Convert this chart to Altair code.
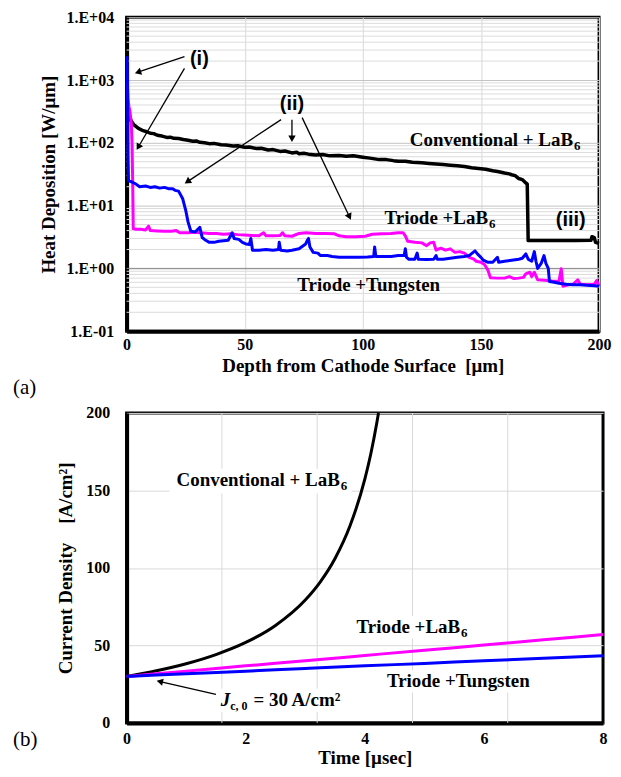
import math
import altair as alt
import pandas as pd

FONT = "'Liberation Serif', 'Times New Roman', Times, serif"
SANS = "'Liberation Sans', Arial, sans-serif"

W_A, H_A = 474, 315
W_B, H_B = 478, 311

# ---------------- Panel (a): heat deposition vs depth ----------------
conv_a = [(0.5, 340), (1, 280), (2, 220), (3, 195), (5, 170), (7, 156), (8.5, 150), (10, 142),
          (11.5, 140), (13, 132), (15, 128), (17, 122), (18.5, 123), (20, 118), (22, 117), (24, 113),
          (26, 110), (28, 106), (29.5, 107), (31, 102), (33, 100), (35, 97), (37, 98), (40, 93),
          (42, 92), (45, 89), (47, 90), (50, 85), (52, 86), (55, 81), (57, 82), (60, 77), (62, 78),
          (65, 73), (67, 74), (70, 69), (72, 71), (73, 67), (75, 68), (77, 66), (80, 64), (83, 65),
          (86, 62), (90, 63), (93, 61), (96, 62), (100, 59), (103, 57), (107, 54), (110, 54),
          (113, 52), (115, 51), (118, 51), (121, 49), (125, 48), (128, 47), (131, 46), (134, 45),
          (137, 44), (140, 43), (143, 42), (146, 40), (149, 39), (152, 38), (155, 36), (157, 35),
          (160, 33), (162, 32), (163, 31), (164.5, 30), (166, 27), (167.5, 26), (169, 23),
          (169.6, 22), (170, 2.77), (175, 2.77), (180, 2.77), (185, 2.77), (190, 2.77),
          (196.6, 2.8), (197, 3.2), (198, 3.1), (198.5, 2.6), (200, 2.5)]

tung_a = [(0.2, 2400), (0.4, 800), (0.6, 60), (0.8, 25), (2, 24), (4, 22), (5.5, 20), (8, 20.5),
          (10, 19.5), (12, 20), (14, 19), (16, 19.5), (18, 18.5), (19.5, 18.5), (20.5, 17.5),
          (22, 17), (23.7, 13), (25, 8.5), (26, 5.5), (27.2, 3.9), (29, 3.8), (31, 4.5), (32, 3.1),
          (33.5, 2.8), (35, 2.6), (37, 2.6), (39, 2.7), (41, 2.75), (43, 2.8), (44.7, 3.7),
          (45.5, 3.0), (47.5, 2.9), (49, 2.6), (50.5, 2.45), (52, 2.4), (52.6, 3.0), (53.3, 1.95),
          (56, 1.95), (59, 2.0), (62, 1.95), (64.3, 2.0), (64.6, 2.6), (65.2, 1.95), (68, 1.9),
          (70, 1.95), (73, 2.05), (75.8, 2.45), (76.5, 2.8), (77, 3.0), (77.6, 2.2), (79, 1.8),
          (81, 1.75), (82, 1.6), (85, 1.6), (87, 1.55), (90, 1.5), (94, 1.5), (98, 1.5),
          (102, 1.52), (104.6, 1.55), (105, 2.2), (105.5, 1.55), (109, 1.55), (112, 1.55),
          (115, 1.6), (117.5, 1.6), (118, 2.05), (118.5, 1.5), (119.5, 1.4), (122, 1.4),
          (123, 1.75), (123.5, 1.4), (127, 1.38), (130, 1.4), (131, 1.6), (131.5, 1.4), (134, 1.4),
          (137, 1.45), (140, 1.5), (143, 1.55), (145, 1.6), (147.5, 1.9), (148.5, 1.7), (150, 1.5),
          (151, 1.35), (153, 1.25), (155, 1.25), (157, 1.5), (157.5, 1.25), (160, 1.3), (163, 1.35),
          (166, 1.4), (167.5, 1.45), (169, 1.7), (170, 1.4), (171.5, 1.3), (172.6, 1.85),
          (173.3, 1.3), (174, 1.0), (175.5, 1.2), (176.7, 1.6), (177.5, 1.2), (178.5, 1.0),
          (179, 0.62), (181, 0.6), (183, 0.58), (186, 0.56), (189, 0.55), (192, 0.55), (195, 0.54),
          (198, 0.53), (200, 0.52)]

lab6_a = [(0.3, 900), (0.6, 500), (1.0, 380), (1.5, 300), (2.0, 200), (2.3, 100), (2.6, 20),
          (2.8, 4.3), (4, 4.2), (6, 4.2), (8, 4.1), (9.3, 4.7), (10, 4.0), (13, 3.95), (16, 3.9),
          (19, 3.9), (21, 4.0), (22.5, 3.7), (26, 3.7), (29, 3.75), (31, 3.7), (35, 3.6), (38, 3.6),
          (41, 3.5), (44, 3.55), (47, 3.45), (50, 3.4), (53, 3.35), (56, 3.3), (58, 3.7), (59, 3.3),
          (62, 3.3), (65, 3.35), (66, 3.7), (67, 3.3), (70, 3.25), (73, 3.6), (76, 3.7), (80, 3.6),
          (84, 3.6), (88, 3.55), (90, 3.3), (93, 3.2), (97, 3.2), (101, 3.25), (104, 3.5),
          (108, 3.55), (112, 3.6), (115, 3.7), (117, 3.7), (118, 3.3), (119, 2.7), (122, 2.6),
          (125, 2.55), (127, 2.3), (128.5, 2.55), (130, 2.6), (131, 1.95), (133, 2.1), (135, 1.95),
          (137, 2.05), (139, 1.8), (141, 1.85), (143, 1.75), (145, 1.5), (147, 1.4), (148, 1.3),
          (150, 1.25), (151.5, 1.15), (153, 0.93), (154, 0.71), (157, 0.7), (160, 0.7), (162, 0.74),
          (164, 0.69), (166, 0.7), (168, 0.72), (169, 0.82), (170.7, 0.87), (171.5, 0.74),
          (172.6, 0.87), (174, 0.66), (177, 0.65), (180, 0.63), (183, 0.62), (184, 0.99),
          (184.7, 0.52), (187, 0.55), (189, 0.56), (191, 0.66), (192, 0.56), (195, 0.55),
          (198, 0.56), (199, 0.64), (200, 0.52)]

x_ticks_a = [0, 50, 100, 150, 200]
y_ticks_a = [0.1, 1, 10, 100, 1000, 10000]
y_labels_a = ["1.E-01", "1.E+00", "1.E+01", "1.E+02", "1.E+03", "1.E+04"]
minor_grid_a = [m * 10 ** e for e in range(-1, 4) for m in range(2, 10)]

# annotation texts (x, y in data units)
roman_a = [("(i)", 30.8, 2200), ("(ii)", 70, 418), ("(iii)", 188, 5.9)]
center_a = [("Triode +Tungsten", 102.5, 0.55)]
right_a = [("Conventional + LaB", 189, 110), ("Triode +LaB", 153, 6.3)]
arrows_a = [(24.5, 2360, 3.4, 1280), (24.5, 1530, 4.2, 76.6), (65.4, 234, 24.5, 22.4),
            (70, 234, 70, 102), (74.3, 252, 95, 5.9)]

# ---------------- Panel (b): current density vs time ----------------
conv_b = [(0, 30), (0.5, 33.6), (1, 38.2), (1.5, 44.1), (2, 51.9), (2.5, 62.9), (3, 79.3),
          (3.25, 90.9), (3.5, 106.1), (3.75, 127), (4, 157.3), (4.1, 173.5), (4.2, 193.3), (4.23, 200)]
lab6_b = [(0, 30), (1, 33.4), (2, 36.8), (3, 40.1), (4, 43.5), (5, 46.9), (6, 50.2), (7, 53.6), (8, 57)]
tung_b = [(0, 30), (1, 31.7), (2, 33.4), (3, 35.1), (4, 36.8), (5, 38.4), (6, 40.1), (7, 41.7), (8, 43.3)]

x_ticks_b = [0, 2, 4, 6, 8]
x_grid_b = [1.6, 3.2, 4.8, 6.4]
y_ticks_b = [0, 50, 100, 150, 200]

center_b = [("Triode +Tungsten", 5.57, 27)]
right_b = [("Conventional + LaB", 3.58, 157), ("Triode +LaB", 5.6, 62)]
blank_b = [(0.72, 3.78, 164, 148), (3.82, 5.8, 69, 54.4), (4.2, 6.95, 34, 19.6), (1.53, 3.78, 22, 7)]
arrows_b = [(1.5, 18.4, 0.5, 27.2)]

BLACK, BLUE, MAGENTA = "#000000", "#0000ff", "#ff00ff"
TXT = 19


def frame(pairs):
    return pd.DataFrame(pairs, columns=["x", "y"])


def texts(rows):
    return pd.DataFrame(rows, columns=["label", "x", "y"])


def pa(d, v):
    return d / 200 * W_A, (4 - math.log10(v)) / 5 * H_A


def pa_inv(x, y):
    return x / W_A * 200, 10 ** (4 - y / H_A * 5)


def pb(t, j):
    return t / 8 * W_B, (200 - j) / 200 * H_B


def pb_inv(x, y):
    return x / W_B * 8, 200 - y / H_B * 200


def build_arrows(arrows, p, inv):
    shafts, heads = [], []
    for x0, y0, x1, y1 in arrows:
        X0, Y0 = p(x0, y0)
        X1, Y1 = p(x1, y1)
        dx, dy = X1 - X0, Y1 - Y0
        L = math.hypot(dx, dy)
        ux, uy = dx / L, dy / L
        ex, ey = inv(X1 - ux * 5, Y1 - uy * 5)
        hx, hy = inv(X1 - ux * 3.5, Y1 - uy * 3.5)
        shafts.append({"x": x0, "y": y0, "x2": ex, "y2": ey})
        heads.append({"x": hx, "y": hy, "ang": math.degrees(math.atan2(dx, -dy)) % 360})
    return pd.DataFrame(shafts), pd.DataFrame(heads)


def label_expr(values, labels):
    expr = "'" + labels[-1] + "'"
    for v, lab in reversed(list(zip(values[:-1], labels[:-1]))):
        expr = f"datum.value < {v * math.sqrt(10)} ? '{lab}' : " + expr
    return expr


# ---------------- Panel (a) chart ----------------
axis_xa = alt.Axis(values=x_ticks_a, title="Depth from Cathode Surface \u00a0[μm]", grid=True,
                   gridColor="#d9d9d9", labelPadding=5, titlePadding=4, format="d")
axis_ya = alt.Axis(values=y_ticks_a, labelExpr=label_expr(y_ticks_a, y_labels_a),
                   title="Heat Deposition [W/μm]", grid=True, gridColor="#c4c4c4",
                   labelPadding=13, titlePadding=8)
XA = alt.X("x:Q", scale=alt.Scale(domain=[0, 200], nice=False, zero=False), axis=axis_xa)
YA = alt.Y("y:Q", scale=alt.Scale(type="log", domain=[0.1, 10000], nice=False), axis=axis_ya)

minor_a = alt.Chart(pd.DataFrame({"y": minor_grid_a})).mark_rule(color="#dcdcdc", strokeWidth=1).encode(y=YA)
unity_a = alt.Chart(pd.DataFrame({"y": [1]})).mark_rule(color="#8c8c8c", strokeWidth=1).encode(y=YA)


def line_a(pairs, color, width=3):
    return alt.Chart(frame(pairs)).mark_line(color=color, strokeWidth=width, strokeJoin="round").encode(x=XA, y=YA)


shaft_a, head_a = build_arrows(arrows_a, pa, pa_inv)
shafts_a = alt.Chart(shaft_a).mark_rule(color="black", strokeWidth=1.3).encode(
    x=XA, y=YA, x2="x2:Q", y2="y2:Q")
heads_a = alt.Chart(head_a).mark_point(shape="triangle-up", filled=True, color="black", size=55,
                                       opacity=1, strokeWidth=0).encode(
    x=XA, y=YA, angle=alt.Angle("ang:Q", scale=None))

roman_t = alt.Chart(texts(roman_a)).mark_text(font=SANS, fontWeight="bold", fontSize=20,
                                              align="center", baseline="middle").encode(x=XA, y=YA, text="label:N")
center_t_a = alt.Chart(texts(center_a)).mark_text(font=FONT, fontWeight="bold", fontSize=TXT,
                                                  align="center", baseline="middle").encode(x=XA, y=YA, text="label:N")
right_t_a = alt.Chart(texts(right_a)).mark_text(font=FONT, fontWeight="bold", fontSize=TXT,
                                                align="right", baseline="middle").encode(x=XA, y=YA, text="label:N")
sub_t_a = alt.Chart(texts(right_a)).mark_text(font=FONT, fontWeight="bold", fontSize=13, align="left",
                                              baseline="middle", dx=1, dy=6, text="6").encode(x=XA, y=YA)
tag_a = alt.Chart(pd.DataFrame({"label": ["(a)"]})).mark_text(font=FONT, fontSize=21, align="left",
                                                              baseline="middle").encode(
    x=alt.value(-114), y=alt.value(H_A + 57), text="label:N")

chart_a = alt.layer(minor_a, unity_a, line_a(conv_a, BLACK, 3.5), line_a(lab6_a, MAGENTA), line_a(tung_a, BLUE),
                    shafts_a, heads_a, roman_t, center_t_a, right_t_a, sub_t_a, tag_a).properties(
    width=W_A, height=H_A)

# ---------------- Panel (b) chart ----------------
axis_xb = alt.Axis(values=x_ticks_b, title="Time [µsec]", grid=False, labelPadding=8, titlePadding=2)
axis_yb = alt.Axis(values=y_ticks_b, title="Current Density \u00a0\u00a0\u00a0[A/cm²]", grid=True,
                   gridColor="#d9d9d9", labelPadding=17, titlePadding=10)
XB = alt.X("x:Q", scale=alt.Scale(domain=[0, 8], nice=False, zero=False), axis=axis_xb)
YB = alt.Y("y:Q", scale=alt.Scale(domain=[0, 200], nice=False), axis=axis_yb)

vgrid_b = alt.Chart(pd.DataFrame({"x": x_grid_b})).mark_rule(color="#d9d9d9", strokeWidth=1).encode(x=XB)
blank_df = pd.DataFrame(blank_b, columns=["x", "x2", "y", "y2"])
blanks_b = alt.Chart(blank_df).mark_rect(color="white").encode(x=XB, x2="x2:Q", y=YB, y2="y2:Q")


def line_b(pairs, color):
    return alt.Chart(frame(pairs)).mark_line(color=color, strokeWidth=3, interpolate="monotone").encode(x=XB, y=YB)


shaft_b, head_b = build_arrows(arrows_b, pb, pb_inv)
shafts_b = alt.Chart(shaft_b).mark_rule(color="black", strokeWidth=1.3).encode(
    x=XB, y=YB, x2="x2:Q", y2="y2:Q")
heads_b = alt.Chart(head_b).mark_point(shape="triangle-up", filled=True, color="black", size=55,
                                       opacity=1, strokeWidth=0).encode(
    x=XB, y=YB, angle=alt.Angle("ang:Q", scale=None))

center_t_b = alt.Chart(texts(center_b)).mark_text(font=FONT, fontWeight="bold", fontSize=TXT,
                                                  align="center", baseline="middle").encode(x=XB, y=YB, text="label:N")
right_t_b = alt.Chart(texts(right_b)).mark_text(font=FONT, fontWeight="bold", fontSize=TXT,
                                                align="right", baseline="middle").encode(x=XB, y=YB, text="label:N")
sub_t_b = alt.Chart(texts(right_b)).mark_text(font=FONT, fontWeight="bold", fontSize=13, align="left",
                                              baseline="middle", dx=1, dy=6, text="6").encode(x=XB, y=YB)
j_t = alt.Chart(texts([("J", 1.58, 15)])).mark_text(font=FONT, fontWeight="bold", fontStyle="italic",
                                                    fontSize=TXT, align="left", baseline="middle").encode(
    x=XB, y=YB, text="label:N")
jsub_t = alt.Chart(texts([("c, 0", 1.74, 15)])).mark_text(font=FONT, fontWeight="bold", fontSize=12,
                                                          align="left", baseline="middle", dy=6).encode(
    x=XB, y=YB, text="label:N")
jrest_t = alt.Chart(texts([("= 30 A/cm²", 2.13, 15)])).mark_text(font=FONT, fontWeight="bold", fontSize=TXT,
                                                               align="left", baseline="middle").encode(
    x=XB, y=YB, text="label:N")
tag_b = alt.Chart(pd.DataFrame({"label": ["(b)"]})).mark_text(font=FONT, fontSize=21, align="left",
                                                              baseline="middle").encode(
    x=alt.value(-114), y=alt.value(H_B + 17), text="label:N")

chart_b = alt.layer(vgrid_b, blanks_b, line_b(conv_b, BLACK), line_b(lab6_b, MAGENTA), line_b(tung_b, BLUE),
                    shafts_b, heads_b, center_t_b, right_t_b, sub_t_b, j_t, jsub_t, jrest_t, tag_b).properties(
    width=W_B, height=H_B)

chart = alt.vconcat(chart_a, chart_b, spacing=3).properties(
    padding={"left": 3, "top": -2, "right": 0, "bottom": 0}
).configure_view(stroke="black", strokeWidth=3).configure_axis(
    labelFont=FONT, labelFontWeight="bold", labelFontSize=16, labelColor="black",
    titleFont=FONT, titleFontWeight="bold", titleFontSize=19, titleColor="black",
    ticks=False, domain=True, domainColor="black", domainWidth=4, labelFlush=False
)

chart.save("out.html", embed_options={"renderer": "svg", "actions": False})
